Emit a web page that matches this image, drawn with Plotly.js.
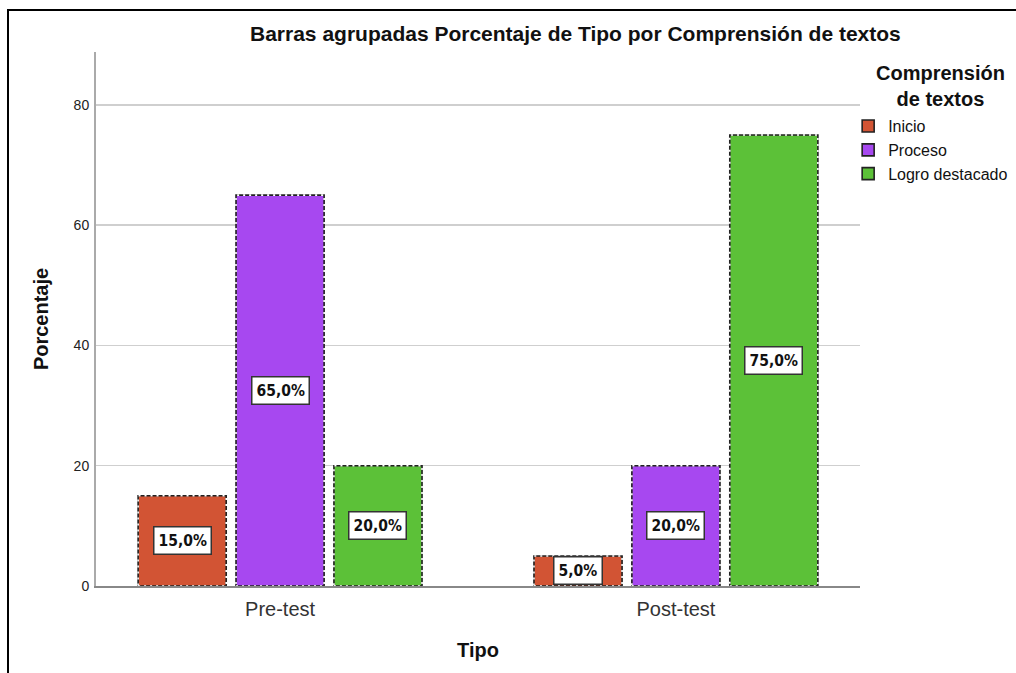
<!DOCTYPE html>
<html>
<head>
<meta charset="utf-8">
<script src="https://cdn.plot.ly/plotly-3.0.1.min.js"></script>
<style>
  html, body { margin: 0; padding: 0; background: #fff; }
  #wrap { position: relative; width: 1016px; height: 673px; overflow: hidden; }
  #chart { width: 1016px; height: 673px; }
  #frame { position: absolute; left: 7px; top: 9px; right: -4px; bottom: -4px;
           border-left: 2px solid #000; border-top: 2px solid #000; pointer-events: none; }
</style>
</head>
<body>
<div id="wrap"><div id="chart"></div><div id="frame"></div></div>
<script>
const categories = ['Pre-test', 'Post-test'];
const seriesNames = ['Inicio', 'Proceso', 'Logro destacado'];
const inicio = [15, 5];
const proceso = [65, 20];
const logro = [20, 75];
const yTicks = [0, 20, 40, 60, 80];

const seriesValues = [inicio, proceso, logro];
const colors = ['#D25434', '#A748F0', '#5CC138'];
const FONT = 'Liberation Sans, Arial, sans-serif';

const bargap = 0.258, bargroupgap = 0.1;
const slot = (1 - bargap) / seriesNames.length;
const barw = slot * (1 - bargroupgap);

const traces = seriesNames.map((name, s) => ({
  type: 'bar', name: name, x: categories, y: seriesValues[s],
  marker: { color: colors[s], line: { color: '#222', width: 1.6 } },
  hoverinfo: 'none'
}));

const shapes = [], annotations = [];
seriesNames.forEach((name, s) => {
  const off = (s - (seriesNames.length - 1) / 2) * slot;
  seriesValues[s].forEach((v, i) => {
    shapes.push({ type: 'rect', xref: 'x', yref: 'y', layer: 'above',
      x0: i + off - barw / 2, x1: i + off + barw / 2, y0: 0, y1: v,
      line: { color: '#ffffff', width: 1.6, dash: '2px,4px' }, fillcolor: 'rgba(0,0,0,0)' });
    annotations.push({ xref: 'x', yref: 'y', x: i + off, y: v / 2, showarrow: false,
      text: v.toFixed(1).replace('.', ',') + '%',
      font: { family: 'Liberation Sans Narrow, Arial Narrow, DejaVu Sans Condensed, ' + FONT, size: 15.5, weight: 'bold', color: '#111' },
      bgcolor: '#ffffff', bordercolor: '#333', borderwidth: 1.5, borderpad: 4 });
  });
});

annotations.push({ xref: 'paper', yref: 'paper', x: 0.628, y: 1, yshift: 19, xanchor: 'center', yanchor: 'middle',
  showarrow: false, text: 'Barras agrupadas Porcentaje de Tipo por Comprensión de textos',
  font: { family: FONT, size: 21, weight: 'bold', color: '#111' } });

annotations.push({ xref: 'paper', yref: 'paper', x: 1, xshift: 80, y: 1, yshift: -8, xanchor: 'center', yanchor: 'top',
  align: 'center', showarrow: false, text: 'Comprensión<br>de textos',
  font: { family: FONT, size: 20, weight: 'bold', color: '#111' } });

const layout = {
  width: 1016, height: 673,
  margin: { l: 96, r: 156, t: 52, b: 87, autoexpand: false },
  paper_bgcolor: '#fff', plot_bgcolor: '#fff',
  font: { family: FONT, color: '#222' },
  barmode: 'group', bargap: bargap, bargroupgap: bargroupgap,
  showlegend: true,
  legend: { x: 0.9845, xanchor: 'left', y: 0.893, yanchor: 'top', bgcolor: 'rgba(0,0,0,0)',
    font: { family: FONT, size: 16, color: '#111' },
    itemwidth: 30, tracegroupgap: 0, traceorder: 'normal' },
  xaxis: { type: 'category', range: [-0.465, 1.465], showline: true, linecolor: '#888', linewidth: 2,
    ticks: '', showgrid: false, zeroline: false, ticklabelstandoff: 4,
    tickfont: { family: FONT, size: 20, color: '#333' },
    title: { text: 'Tipo', standoff: 24, font: { family: FONT, size: 20, weight: 'bold', color: '#111' } } },
  yaxis: { range: [0, 88.8], tickvals: yTicks, ticktext: yTicks.map(String), showline: true, linecolor: '#aaa', linewidth: 2,
    ticks: '', showgrid: true, gridcolor: '#cfcfcf', gridwidth: 1.5, zeroline: false, ticklabelstandoff: 2,
    tickfont: { family: FONT, size: 14, color: '#222' },
    title: { text: 'Porcentaje', standoff: 20, font: { family: FONT, size: 20, weight: 'bold', color: '#111' } } },
  shapes: shapes, annotations: annotations
};

Plotly.newPlot('chart', traces, layout, { displayModeBar: false, staticPlot: true });
</script>
</body>
</html>
